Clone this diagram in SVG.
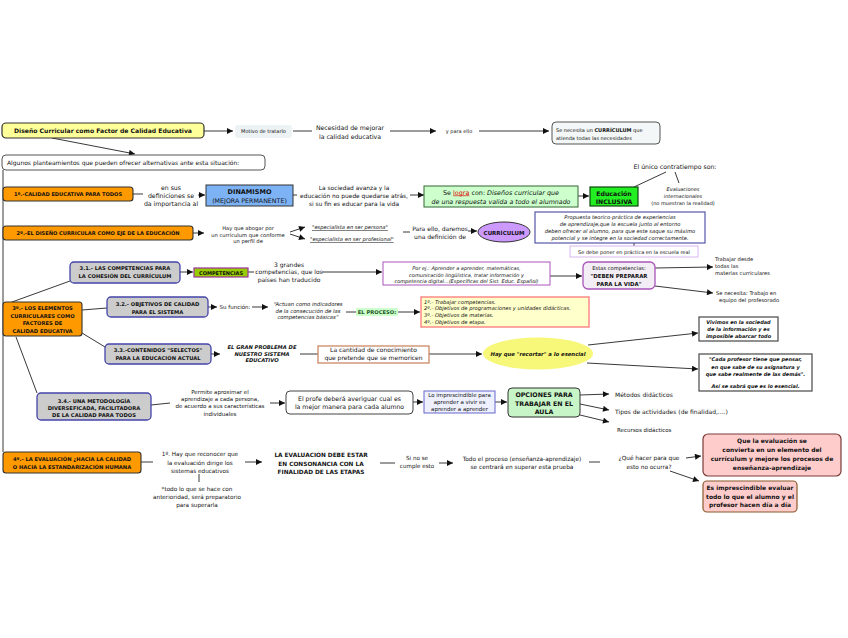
<svg xmlns="http://www.w3.org/2000/svg" width="848" height="638" viewBox="0 0 848 638">
<defs>
<marker id="a" viewBox="0 0 10 10" refX="10" refY="5" markerWidth="7" markerHeight="6" markerUnits="userSpaceOnUse" orient="auto"><path d="M0,0 L10,5 L0,10 z" fill="#111"/></marker>
<style>
text{font-family:"DejaVu Sans",Verdana,sans-serif;fill:#111}
.m{font-size:6.2px}.s{font-size:5.2px}.b{font-weight:bold}.i{font-style:italic}.c{text-anchor:middle}.u{text-decoration:underline}
.or{fill:#ff9900;stroke:#333;stroke-width:1.1}
.gr{fill:#cccccc;stroke:#4444aa;stroke-width:1.3}
#conn path{fill:none;stroke:#222;stroke-width:0.9}
#conn path.ar{marker-end:url(#a)}
</style>
</defs>
<rect width="848" height="638" fill="#fff"/>
<g id="conn">
<path class="ar" d="M204,131 L233,131"/>
<path d="M293,131 L312,131"/>
<path class="ar" d="M390,131 L436,131"/>
<path class="ar" d="M479,131 L549,131"/>
<path class="ar" d="M52,138 L135,154"/>
<path d="M3,170 L3,452"/>
<path d="M133,194 L143,194"/>
<path class="ar" d="M198,195 L205,195"/>
<path d="M293,195 L297,195"/>
<path class="ar" d="M410,195 L424,195"/>
<path class="ar" d="M578,196 L589,196"/>
<path d="M666,172 L634,187"/>
<path d="M675,172 L679,183"/>
<path class="ar" d="M193,233 L204,233"/>
<path class="ar" d="M290,232 L305,227"/>
<path class="ar" d="M290,234 L305,239"/>
<path d="M403,232 L410,232"/>
<path class="ar" d="M468,231 L477,231"/>
<path d="M634,243 L634,246"/>
<path d="M12,302 L70,281"/>
<path class="ar" d="M180,272 L193,272"/>
<path d="M248,272 L254,272"/>
<path class="ar" d="M322,272 L382,272"/>
<path class="ar" d="M550,276 L582,276"/>
<path class="ar" d="M655,268 L713,267"/>
<path class="ar" d="M655,286 L713,293"/>
<path d="M82,310 L107,308"/>
<path class="ar" d="M208,307 L217,307"/>
<path class="ar" d="M252,307 L268,307"/>
<path d="M346,312 L356,312"/>
<path class="ar" d="M398,312 L420,312"/>
<path d="M82,333 L105,347"/>
<path class="ar" d="M211,354 L220,354"/>
<path d="M300,354 L318,354"/>
<path class="ar" d="M429,354 L482,354"/>
<path class="ar" d="M588,345 L698,333"/>
<path class="ar" d="M587,363 L698,369"/>
<path d="M16,337 L37,393"/>
<path d="M151,405 L170,403"/>
<path class="ar" d="M270,403 L285,403"/>
<path class="ar" d="M413,402 L423,402"/>
<path class="ar" d="M495,402 L507,402"/>
<path class="ar" d="M580,395 L609,394"/>
<path class="ar" d="M580,404 L609,410"/>
<path class="ar" d="M580,415 L609,422"/>
<path d="M141,462 L153,462"/>
<path d="M199,474 L199,482"/>
<path class="ar" d="M245,462 L262,462"/>
<path d="M380,463 L395,463"/>
<path class="ar" d="M439,463 L453,463"/>
<path d="M589,462 L600,462"/>
<path class="ar" d="M686,458 L701,456"/>
<path class="ar" d="M670,471 L699,481"/>
</g>

<g id="title"><rect x="2" y="123" width="202" height="15" rx="4" fill="#ffff99" stroke="#333" stroke-width="1.2"/><text class="b c" x="103" y="133" font-size="6.1">Diseño Curricular como Factor de Calidad Educativa</text></g>
<g id="motivo"><rect x="235" y="125" width="57" height="13" rx="3" fill="#edf2f5"/><text class="c" x="263.5" y="133" font-size="5">Motivo de tratarlo</text></g>
<g id="necesidad"><text class="c m" x="350" y="130">Necesidad de mejorar</text><text class="c m" x="350" y="138.5">la calidad educativa</text></g>
<g id="paraello"><text class="c" x="459" y="133" font-size="5">y para ello</text></g>
<g id="senecesita"><rect x="552" y="122" width="108" height="22" rx="4" fill="#f4f7f7" stroke="#555"/><text x="556" y="132" font-size="5">Se necesita un <tspan class="b">CURRÍCULUM</tspan> que</text><text x="556" y="140" font-size="5">atienda todas las necesidades</text></g>
<g id="algunos"><rect x="2" y="155" width="263" height="15" rx="4" fill="#fff" stroke="#555"/><text x="7" y="165" font-size="6">Algunos planteamientos que pueden ofrecer alternativas ante esta situación:</text></g>

<g id="n1"><rect class="or" x="3" y="187" width="130" height="14" rx="3"/><text class="b c" x="68" y="196" font-size="5.1">1º.-CALIDAD EDUCATIVA PARA TODOS</text></g>
<g id="ensus"><text class="c m" x="171" y="190">en sus</text><text class="c m" x="171" y="198">definiciones se</text><text class="c m" x="171" y="206">da importancia al</text></g>
<g id="dinamismo"><rect x="206" y="185" width="87" height="21" fill="#7db3f5" stroke="#333"/><text class="b c" x="249.5" y="194" font-size="6.5">DINAMISMO</text><text class="c" x="249.5" y="202.5" font-size="6.3">(MEJORA PERMANENTE)</text></g>
<g id="sociedad"><text class="c" x="354" y="190" font-size="5.9">La sociedad avanza y la</text><text class="c" x="354" y="197.5" font-size="5.9">educación no puede quedarse atrás,</text><text class="c" x="354" y="205.5" font-size="5.9">si su fin es educar para la vida</text></g>
<g id="selogra"><rect x="424" y="186" width="154" height="21" fill="#ccffcc" stroke="#336633"/><text class="c" x="501" y="194.5" font-size="6.4">Se <tspan class="u" fill="#e00000" style="fill:#e00000">logra</tspan> con: <tspan class="i">Diseños curricular que</tspan></text><text class="c i" x="501" y="203.5" font-size="6.3">de una respuesta valida a todo el alumnado</text></g>
<g id="inclusiva"><rect x="590" y="187" width="48" height="19" fill="#22ee22" stroke="#114411" stroke-width="1.2"/><text class="b c" x="614" y="195.5" font-size="6.2">Educación</text><text class="b c" x="614" y="203.5" font-size="6.2">INCLUSIVA</text></g>
<g id="contratiempo"><text class="c m" x="675" y="169">El único contratiempo son:</text></g>
<g id="evaluaciones"><text class="c i" x="683" y="191" font-size="5">Evaluaciones</text><text class="c i" x="683" y="198" font-size="5">internacionales</text><text class="c" x="683" y="205" font-size="5">(no muestran la realidad)</text></g>

<g id="n2"><rect class="or" x="3" y="226" width="190" height="14" rx="3"/><text class="b c" x="98" y="235" font-size="5.1">2º.-EL DISEÑO CURRICULAR COMO EJE DE LA EDUCACIÓN</text></g>
<g id="abogar"><text class="c s" x="248" y="230">Hay que abogar por</text><text class="c s" x="248" y="236.5">un currículum que conforme</text><text class="c s" x="248" y="243">un perfil de</text></g>
<g id="persona"><text class="i u s" x="312" y="229">"especialista en ser persona"</text></g>
<g id="profesional"><text class="i u s" x="310" y="241">"especialista en ser profesional"</text></g>
<g id="daremos"><text class="c" x="440" y="231" font-size="6">Para ello, daremos</text><text class="c" x="440" y="239" font-size="6">una definición de</text></g>
<g id="curriculum"><ellipse cx="504" cy="232" rx="26" ry="10" fill="#cc99ff" stroke="#333"/><text class="b c" x="504" y="234.5" font-size="5.5">CURRÍCULUM</text></g>
<g id="propuesta"><rect x="535" y="212" width="170" height="31" fill="#fff" stroke="#5555aa" stroke-width="1.2"/><text class="c i s" x="620" y="219">Propuesta teorico-práctica de experiencias</text><text class="c i s" x="620" y="226">de aprendizaje,que la escuela junto al entorno</text><text class="c i s" x="620" y="233">deben ofrecer al alumno, para que este saque su máximo</text><text class="c i s" x="620" y="240">potencial y se integre en la sociedad correctamente.</text></g>
<g id="sedebe"><rect x="570" y="246" width="128" height="11" fill="#fff" stroke="#d8b8f0"/><text class="c" x="634" y="254" font-size="5">Se debe poner en práctica en la escuela real</text></g>

<g id="n31"><rect class="gr" x="70" y="262" width="110" height="21" rx="4"/><text class="b c s" x="125" y="270">3.1.- LAS COMPETENCIAS PARA</text><text class="b c s" x="125" y="278">LA COHESIÓN DEL CURRÍCULUM</text></g>
<g id="competencias"><rect x="194" y="268" width="54" height="9" fill="#99cc00" stroke="#993399" stroke-width="1.2"/><text class="b c" x="221" y="275" font-size="5">COMPETENCIAS</text></g>
<g id="tresgrandes"><text class="c" x="289" y="267" font-size="6">3 grandes</text><text class="c" x="289" y="274" font-size="6">competencias, que los</text><text class="c" x="289" y="281.5" font-size="6">países han traducido</text></g>
<g id="porej"><rect x="383" y="262" width="167" height="23" fill="#fff" stroke="#aa55bb"/><text class="c i" x="466.5" y="270" font-size="5">Por ej.:  Aprender a aprender, matemáticas,</text><text class="c i" x="466.5" y="276.5" font-size="5">comunicación lingüística, tratar información y</text><text class="c i" x="466.5" y="283" font-size="5">competencia digital...(Específicas del Sist. Educ. Español)</text></g>
<g id="estas"><rect x="583" y="262" width="72" height="27" rx="5" fill="#f3eef5" stroke="#aa55bb" stroke-width="1.3"/><text class="c s" x="619" y="270">Estas competencias:</text><text class="b c" x="619" y="278" font-size="5.4">"DEBEN PREPARAR</text><text class="b c" x="619" y="285.5" font-size="5.4">PARA LA VIDA"</text></g>
<g id="trabajar"><text class="s" x="715" y="261">Trabajar desde</text><text class="s" x="715" y="268">todas las</text><text class="s" x="715" y="274.5">materias curriculares</text></g>
<g id="equipo"><text class="s" x="716" y="295">Se necesita: Trabajo en</text><text class="s" x="719" y="302">equipo del profesorado</text></g>

<g id="n3"><rect class="or" x="3" y="302" width="79" height="34" rx="3"/><text class="b c s" x="42.5" y="310">3º.- LOS ELEMENTOS</text><text class="b c s" x="42.5" y="318">CURRICULARES COMO</text><text class="b c s" x="42.5" y="325">FACTORES DE</text><text class="b c s" x="42.5" y="332.5">CALIDAD EDUCATIVA</text></g>
<g id="n32"><rect class="gr" x="107" y="297" width="101" height="20" rx="4"/><text class="b c s" x="157.5" y="306">3.2.- OBJETIVOS DE CALIDAD</text><text class="b c s" x="157.5" y="313.5">PARA EL SISTEMA</text></g>
<g id="funcion"><text class="c" x="235" y="309" font-size="5.5">Su función:</text></g>
<g id="actuan"><text class="c i" x="308" y="306" font-size="5.3">“Actuan como indicadores</text><text class="c i" x="308" y="312.5" font-size="5.3">de la consecución de las</text><text class="c i" x="308" y="319" font-size="5.3">competencias básicas”</text></g>
<g id="proceso"><rect x="356" y="308" width="42" height="8" fill="#ccffcc"/><text class="b c" x="377" y="314" font-size="5.2" style="fill:#225522">EL PROCESO:</text></g>
<g id="lista"><rect x="421" y="297" width="168" height="30" fill="#ffffcc" stroke="#ff7777" stroke-width="1.3"/><text class="i s" x="424" y="303.5">1º.- Trabajar competencias.</text><text class="i s" x="424" y="310">2º.- Objetivos  de programaciones y unidades didácticas.</text><text class="i s" x="424" y="316.5">3º.- Objetivos de materias.</text><text class="i s" x="424" y="323.5">4º.- Objetivos de etapa.</text></g>

<g id="n33"><rect class="gr" x="105" y="344" width="106" height="20" rx="4"/><text class="b c s" x="158" y="352">3.3.-CONTENIDOS "SELECTOS"</text><text class="b c s" x="158" y="360">PARA LA EDUCACIÓN ACTUAL</text></g>
<g id="problema"><text class="b i c s" x="262" y="349">EL GRAN PROBLEMA DE</text><text class="b i c s" x="262" y="355.5">NUESTRO SISTEMA</text><text class="b i c s" x="262" y="362">EDUCATIVO</text></g>
<g id="cantidad"><rect x="318" y="346" width="111" height="17" fill="#fff" stroke="#cc8866" stroke-width="1.3"/><text class="c" x="373.5" y="352" font-size="6">La cantidad de conocimiento</text><text class="c" x="373.5" y="360" font-size="6">que pretende que se memoricen</text></g>
<g id="recortar"><ellipse cx="538" cy="353.5" rx="55" ry="16" fill="#f7f77a"/><text class="b i c" x="538" y="356" font-size="5.3">Hay que "recortar" a lo esencial</text></g>
<g id="vivimos"><rect x="699" y="317" width="79" height="24" fill="#fff" stroke="#555" stroke-width="1.3"/><text class="b i c" x="738.5" y="323.5" font-size="5">Vivimos en la sociedad</text><text class="b i c" x="738.5" y="330.5" font-size="5">de la información y es</text><text class="b i c" x="738.5" y="337.5" font-size="5">imposible abarcar todo</text></g>
<g id="cada"><rect x="699" y="354" width="113" height="37" fill="#fff" stroke="#555" stroke-width="1.3"/><text class="b i c" x="755.5" y="361" font-size="5">"Cada profesor tiene que pensar,</text><text class="b i c" x="755.5" y="368.5" font-size="5">en que sabe de su asignatura y</text><text class="b i c" x="755.5" y="375.5" font-size="5">que sabe realmente de las demás".</text><text class="b i c" x="755.5" y="388" font-size="5">Así se sabrá que es lo esencial.</text></g>

<g id="n34"><rect class="gr" x="37" y="393" width="114" height="27" rx="4"/><text class="b c s" x="94" y="403">3.4.- UNA METODOLOGÍA</text><text class="b c s" x="94" y="410">DIVERSEFICADA, FACILITADORA</text><text class="b c s" x="94" y="417">DE LA CALIDAD PARA TODOS</text></g>
<g id="permite"><text class="c" x="220" y="394" font-size="5.5">Permite aproximar el</text><text class="c" x="220" y="401" font-size="5.5">aprendizaje a cada persona,</text><text class="c" x="220" y="408" font-size="5.5">de acuerdo a sus características</text><text class="c" x="220" y="415.5" font-size="5.5">individuales</text></g>
<g id="profe"><rect x="286" y="391" width="127" height="23" rx="4" fill="#fff" stroke="#444"/><text class="c m" x="349.5" y="400.5">El profe deberá averiguar cual es</text><text class="c m" x="349.5" y="409">la mejor manera para cada alumno</text></g>
<g id="imprescindible"><rect x="424" y="391" width="71" height="22" fill="#eef0ff" stroke="#6666cc"/><text class="c" x="459.5" y="396.5" font-size="5.5">Lo imprescindible para</text><text class="c" x="459.5" y="404" font-size="5.5">aprender a vivir es</text><text class="c" x="459.5" y="411" font-size="5.5">aprender a aprender</text></g>
<g id="opciones"><rect x="508" y="388" width="72" height="29" rx="4" fill="#c8f5c8" stroke="#333"/><text class="b c" x="544" y="397" font-size="6.3">OPCIONES PARA</text><text class="b c" x="544" y="405.5" font-size="6.3">TRABAJAR EN EL</text><text class="b c" x="544" y="414" font-size="6.3">AULA</text></g>
<g id="metodos"><text x="615" y="396.5" font-size="6">Métodos didácticos</text></g>
<g id="tipos"><text x="615" y="414" font-size="6">Tipos de actividades (de finalidad,....)</text></g>
<g id="recursos"><text x="617" y="432" font-size="5.5">Recursos didácticos</text></g>

<g id="n4"><rect class="or" x="3" y="452" width="138" height="21" rx="3"/><text class="b c s" x="72" y="461">4º.- LA EVALUACIÓN ¿HACIA LA CALIDAD</text><text class="b c s" x="72" y="469">O HACIA LA ESTANDARIZACIÓN HUMANA</text></g>
<g id="reconocer"><text class="c" x="200" y="456" font-size="5.7">1º. Hay que reconocer que</text><text class="c" x="200" y="465" font-size="5.7">la evaluación dirige los</text><text class="c" x="200" y="473" font-size="5.7">sistemas educativos</text></g>
<g id="todo"><text class="c" x="197" y="491" font-size="5.7">*todo lo que se hace con</text><text class="c" x="197" y="499" font-size="5.7">anterioridad, será preparatorio</text><text class="c" x="197" y="507" font-size="5.7">para superarla</text></g>
<g id="consonancia"><text class="b c" x="321" y="457" font-size="5.8">LA EVALUACIÓN DEBE ESTAR</text><text class="b c" x="321" y="465.5" font-size="5.8">EN CONSONANCIA CON LA</text><text class="b c" x="321" y="473.5" font-size="5.8">FINALIDAD DE LAS ETAPAS</text></g>
<g id="sinose"><text class="c" x="417" y="460" font-size="5.6">Si no se</text><text class="c" x="417" y="468" font-size="5.6">cumple esto</text></g>
<g id="todoproceso"><text class="c" x="522" y="461" font-size="5.8">Todo el proceso (enseñanza-aprendizaje)</text><text class="c" x="522" y="469" font-size="5.8">se centrará en superar esta prueba</text></g>
<g id="quehacer"><text class="c" x="649" y="460" font-size="5.8">¿Qué hacer para que</text><text class="c" x="649" y="469" font-size="5.8">esto no ocurra?</text></g>
<g id="quelaeval"><rect x="703" y="434" width="138" height="42" rx="5" fill="#ffcccc" stroke="#7a3a3a" stroke-width="1.2"/><text class="b c" x="772" y="443" font-size="6">Que la evaluación se</text><text class="b c" x="772" y="452" font-size="6">convierta en un elemento del</text><text class="b c" x="772" y="461" font-size="6">currículum y mejore los procesos de</text><text class="b c" x="772" y="470" font-size="6">enseñanza-aprendizaje</text></g>
<g id="esimprescindible"><rect x="703" y="481" width="94" height="31" rx="4" fill="#ffcccc" stroke="#8a5a2a" stroke-width="1.2"/><text class="b c" x="750" y="490" font-size="6">Es imprescindible evaluar</text><text class="b c" x="750" y="498.5" font-size="6">todo lo que el alumno y el</text><text class="b c" x="750" y="507" font-size="6">profesor hacen día a día</text></g>
</svg>
